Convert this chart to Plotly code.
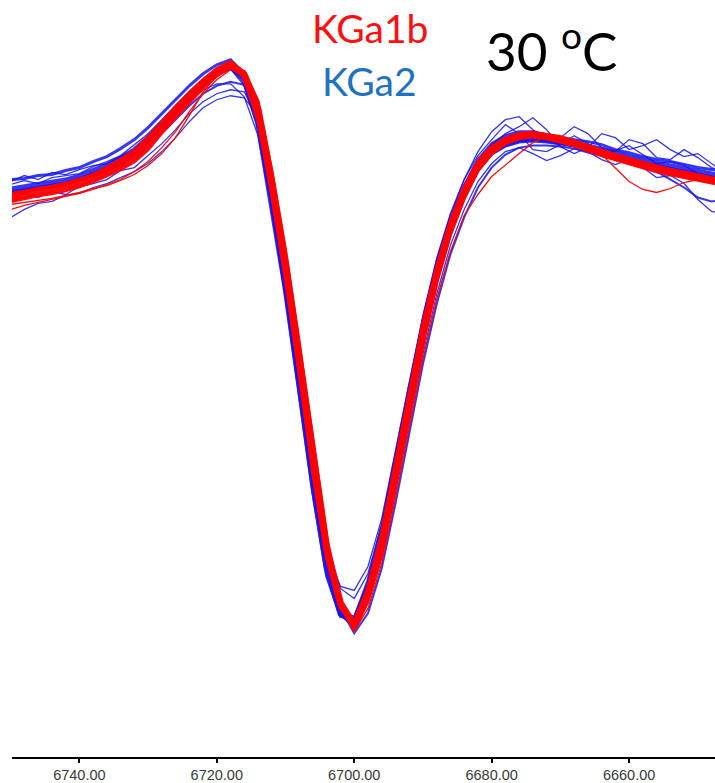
import plotly.graph_objects as go

# Field / wavelength axis (shared by all spectra), descending
x_vals = [6750, 6748, 6746, 6744, 6742, 6740, 6738, 6736, 6734, 6732, 6730, 6728, 6726,
          6724, 6722, 6720, 6718, 6716, 6714, 6712, 6710, 6708, 6706, 6704, 6702, 6700,
          6698, 6696, 6694, 6692, 6690, 6688, 6686, 6684, 6682, 6680, 6678, 6676, 6674,
          6672, 6670, 6668, 6666, 6664, 6662, 6660, 6658, 6656, 6654, 6652, 6650, 6648, 6646]

# KGa2 spectra (blue)
kga2_1 = [0.0, 0.2, 0.4, 0.6, 0.9, 1.3, 1.8, 2.4, 3.1, 3.9, 5.1, 6.6, 8.0, 9.4, 10.7, 11.7, 12.4, 11.0, 6.8, -1.2,
          -9.8, -19.5, -29.5, -38.0, -42.5, -43.3, -40.0, -35.0, -28.0, -21.0, -14.2, -8.4, -3.8, -0.4, 2.2, 3.8,
          4.6, 5.0, 5.1, 5.0, 4.8, 4.6, 4.3, 4.0, 3.6, 3.2, 2.9, 2.6, 2.3, 2.0, 1.7, 1.5, 1.3]
kga2_2 = [1.0, 1.1, 1.4, 1.5, 1.9, 2.2, 2.8, 3.3, 4.1, 5.0, 6.2, 7.6, 9.0, 10.4, 11.6, 12.5, 13.0, 11.6, 7.2, -1.5,
          -10.5, -20.5, -30.5, -38.8, -42.8, -43.0, -39.2, -33.8, -26.8, -19.8, -13.2, -7.5, -3.0, 0.4, 3.0, 4.6,
          5.4, 5.8, 5.8, 5.5, 5.2, 5.0, 4.8, 4.5, 4.0, 3.7, 3.3, 3.0, 2.8, 2.5, 2.2, 2.0, 1.8]
kga2_3 = [-1.0, -0.4, -0.8, -0.2, -0.5, 0.3, 0.6, 1.0, 1.9, 2.2, 3.4, 4.6, 6.0, 7.6, 8.8, 9.6, 10.0, 9.8, 7.0, 0.5,
          -8.0, -17.5, -27.0, -35.5, -40.0, -41.0, -38.5, -33.5, -26.5, -19.5, -12.8, -7.0, -2.6, 1.0, 3.8, 5.8,
          7.0, 7.3, 6.0, 5.0, 5.2, 6.3, 5.6, 4.2, 3.8, 5.0, 4.6, 3.2, 3.0, 4.0, 3.2, 2.2, 1.8]
kga2_4 = [-2.8, -2.0, -1.4, -1.2, -0.6, -0.4, 0.2, 0.6, 1.2, 1.8, 2.6, 3.8, 5.2, 6.8, 8.2, 9.0, 9.4, 9.2, 7.4, 1.5,
          -7.2, -16.8, -26.5, -35.5, -41.8, -44.0, -41.5, -37.0, -30.5, -23.5, -16.5, -10.5, -5.6, -2.0, 0.8, 2.6,
          3.8, 4.2, 3.6, 2.9, 3.4, 4.1, 3.8, 3.0, 2.5, 3.0, 2.2, 1.2, 1.4, 0.6, -1.0, -2.2, -2.5]
kga2_5 = [0.5, 0.9, 0.6, 1.2, 1.4, 1.6, 2.3, 2.8, 3.4, 4.5, 5.6, 7.0, 8.4, 9.8, 11.0, 11.9, 12.1, 10.4, 6.0, -1.8,
          -10.5, -20.0, -29.8, -38.0, -42.2, -42.8, -39.5, -34.5, -27.5, -20.6, -14.0, -8.2, -3.6, -0.2, 2.5, 4.5,
          5.6, 6.3, 7.2, 6.0, 4.3, 3.6, 4.2, 5.6, 5.2, 4.0, 4.4, 5.0, 4.0, 3.3, 3.6, 2.6, 1.6]
kga2_6 = [-0.5, -0.3, 0.1, 0.2, 0.5, 0.9, 1.3, 1.8, 2.5, 3.3, 4.3, 5.6, 7.0, 8.4, 9.6, 10.4, 10.8, 10.5, 7.8, 1.0,
          -7.5, -17.0, -27.0, -36.0, -42.0, -44.5, -42.5, -38.0, -31.5, -24.5, -17.5, -11.5, -6.5, -2.8, 0.2, 2.2,
          3.5, 4.2, 4.4, 4.4, 4.3, 4.1, 3.7, 3.4, 3.0, 2.8, 2.2, 1.8, 1.0, 0.2, -0.8, -1.2, -1.0]
kga2_7 = [0.8, 1.4, 1.0, 1.7, 1.5, 2.0, 2.4, 2.6, 3.3, 4.0, 5.0, 6.2, 7.6, 8.9, 10.0, 10.6, 10.6, 9.3, 5.4, -2.2,
          -10.8, -20.0, -29.0, -36.5, -39.8, -40.2, -37.8, -33.0, -26.2, -19.2, -12.6, -6.9, -2.4, 1.0, 3.4, 5.0,
          6.5, 5.6, 4.0, 3.8, 4.5, 5.4, 4.6, 3.6, 3.9, 4.4, 3.5, 2.6, 2.8, 2.4, 1.6, 1.3, 1.2]
kga2_8 = [-0.3, -0.1, 0.1, 0.3, 0.6, 1.0, 1.5, 2.1, 2.8, 3.6, 4.8, 6.3, 7.7, 9.1, 10.4, 11.5, 12.2, 11.2, 7.4, -0.2,
          -8.8, -18.5, -28.5, -37.2, -42.5, -43.8, -40.6, -35.6, -28.6, -21.6, -14.6, -8.7, -4.0, -0.6, 2.0, 3.6,
          4.4, 4.8, 4.9, 4.8, 4.6, 4.4, 4.0, 3.7, 3.3, 2.9, 2.6, 2.3, 2.0, 1.7, 1.4, 1.2, 1.0]

# KGa1b spectra (red)
kga1b_1 = [-0.8, -0.5, -0.2, 0.0, 0.3, 0.7, 1.2, 1.8, 2.5, 3.3, 4.6, 6.1, 7.7, 9.2, 10.6, 11.7, 12.6, 11.5, 8.0, 0.7,
           -7.5, -17.0, -27.0, -36.0, -41.5, -43.7, -40.5, -35.5, -28.5, -21.5, -14.5, -8.5, -3.8, -0.3, 2.4, 4.0,
           4.9, 5.4, 5.5, 5.3, 5.0, 4.6, 4.2, 3.7, 3.3, 2.9, 2.5, 2.1, 1.8, 1.5, 1.2, 0.9, 0.7]
kga1b_2 = [-0.4, -0.2, 0.1, 0.3, 0.6, 1.0, 1.5, 2.2, 3.0, 3.9, 5.2, 6.8, 8.3, 9.7, 11.0, 12.1, 12.8, 11.2, 7.0, -0.5,
           -9.0, -18.5, -28.5, -37.0, -42.0, -43.5, -40.0, -34.5, -27.5, -20.5, -13.5, -7.8, -3.2, 0.2, 2.8, 4.3,
           5.1, 5.6, 5.7, 5.5, 5.2, 4.8, 4.4, 3.9, 3.5, 3.1, 2.7, 2.3, 2.0, 1.7, 1.4, 1.1, 0.9]
kga1b_3 = [-1.2, -0.9, -0.6, -0.4, -0.1, 0.3, 0.8, 1.4, 2.0, 2.8, 4.0, 5.7, 7.2, 8.7, 10.2, 11.4, 12.3, 11.8, 8.8, 1.8,
           -6.2, -15.5, -25.5, -35.0, -41.5, -44.2, -41.2, -36.5, -29.5, -22.5, -15.5, -9.3, -4.5, -0.9, 1.9, 3.6,
           4.6, 5.1, 5.3, 5.1, 4.8, 4.4, 3.9, 3.4, 3.0, 2.6, 2.2, 1.8, 1.5, 1.2, 0.9, 0.6, 0.4]
kga1b_4 = [-2.0, -1.6, -1.3, -1.0, -0.7, -0.4, 0.0, 0.5, 1.0, 1.8, 2.8, 4.2, 5.8, 7.8, 9.6, 11.0, 12.0, 11.6, 8.5, 1.2,
           -7.0, -16.5, -26.5, -35.5, -41.5, -43.9, -41.0, -36.0, -29.0, -22.0, -15.0, -9.0, -4.2, -0.7, 2.0, 3.8,
           4.8, 5.4, 5.6, 5.6, 5.4, 5.0, 4.4, 3.5, 2.2, 0.8, 0.0, -0.3, 0.1, 0.7, 1.0, 0.9, 0.8]
kga1b_5 = [-1.5, -1.3, -1.1, -0.9, -0.6, -0.3, 0.1, 0.4, 0.9, 1.5, 2.4, 3.6, 5.2, 7.4, 9.8, 11.4, 12.2, 11.9, 9.0, 2.0,
           -6.5, -16.0, -26.0, -35.5, -41.8, -44.3, -42.0, -37.5, -31.0, -24.0, -17.0, -11.0, -6.2, -2.6, -0.5, 1.3,
           2.5, 3.6, 4.7, 5.4, 5.3, 4.9, 4.4, 3.9, 3.4, 3.0, 2.6, 2.2, 1.8, 1.5, 1.2, 0.9, 0.7]

tick_vals = [6740, 6720, 6700, 6680, 6660]
tick_text = ["6740.00", "6720.00", "6700.00", "6680.00", "6660.00"]

blue_series = [kga2_1, kga2_2, kga2_3, kga2_4, kga2_5, kga2_6, kga2_7, kga2_8]
blue_widths = [6.0, 3.0, 1.3, 1.3, 1.3, 2.0, 1.3, 4.0]
red_series = [kga1b_1, kga1b_2, kga1b_3, kga1b_4, kga1b_5]
red_widths = [7.0, 3.5, 3.5, 1.3, 1.3]

fig = go.Figure()
for ys, w in zip(blue_series, blue_widths):
    fig.add_trace(go.Scatter(x=x_vals, y=ys, mode="lines",
                             line=dict(color="rgba(20,20,240,0.85)", width=w),
                             showlegend=False, hoverinfo="skip"))
for ys, w in zip(red_series, red_widths):
    fig.add_trace(go.Scatter(x=x_vals, y=ys, mode="lines",
                             line=dict(color="rgba(255,0,0,0.95)", width=w),
                             showlegend=False, hoverinfo="skip"))

fig.add_annotation(xref="paper", yref="paper", x=0.5095, y=0.963, text="KGa1b",
                   xanchor="center", yanchor="middle", showarrow=False,
                   font=dict(family="Lato", size=39, color="#FF1010"))
fig.add_annotation(xref="paper", yref="paper", x=0.508, y=0.893, text="KGa2",
                   xanchor="center", yanchor="middle", showarrow=False,
                   font=dict(family="Lato", size=39, color="#1F72C0"))
fig.add_annotation(xref="paper", yref="paper", x=0.768, y=0.938, text="30 <sup>o</sup>C",
                   xanchor="center", yanchor="middle", showarrow=False,
                   font=dict(family="Lato", size=53, color="#000000"))

fig.update_layout(
    width=715, height=783,
    margin=dict(l=12, r=0, t=0, b=24),
    paper_bgcolor="white", plot_bgcolor="white",
    xaxis=dict(range=[6749.8, 6647.5], tickvals=tick_vals, ticktext=tick_text,
               showgrid=False, zeroline=False, showline=True, linecolor="black", linewidth=2,
               ticks="outside", ticklen=4, tickwidth=1.5, tickcolor="black",
               tickfont=dict(family="Liberation Sans", size=14.5, color="#3a3a3a")),
    yaxis=dict(range=[-56.9, 19.0], visible=False),
)

fig.write_html("out.html", config={"displayModeBar": False},
               post_script="document.body.style.margin='0px';document.body.style.overflow='hidden';")
